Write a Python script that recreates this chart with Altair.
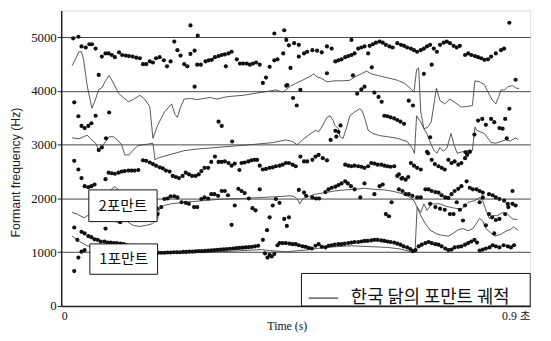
import altair as alt
import pandas as pd

# ---- measured formant points (time s, frequency Hz) ----
f4_dots = [(0.023,4980),(0.033,5010),(0.039,4830),(0.047,4810),(0.054,4870),(0.059,4870),(0.066,4790),(0.078,4640),(0.085,4700),(0.091,4700),(0.097,4670),(0.103,4630),(0.111,4720),(0.117,4670),(0.124,4660),(0.130,4650),(0.137,4640),(0.144,4620),(0.151,4610),(0.157,4500),(0.163,4500),(0.170,4550),(0.176,4530),(0.182,4610),(0.189,4630),(0.197,4570),(0.203,4460),(0.210,4550),(0.223,4760),(0.229,4660),(0.236,4500),(0.242,4460),(0.248,4690),(0.256,4750),(0.261,4490),(0.268,4490),(0.277,4550),(0.283,4570),(0.289,4580),(0.295,4630),(0.302,4650),(0.308,4670),(0.314,4680),(0.321,4700),(0.327,4730),(0.316,4460),(0.337,4590),(0.343,4510),(0.349,4510),(0.356,4510),(0.362,4490),(0.368,4510),(0.374,4530),(0.381,4490),(0.409,4570),(0.415,4590),(0.426,4700),(0.437,4850),(0.447,4890),(0.456,4860),(0.466,4700),(0.472,4730),(0.482,4760),(0.491,4750),(0.500,4720),(0.510,4830),(0.519,4790),(0.526,4550),(0.532,4570),(0.538,4590),(0.545,4630),(0.551,4650),(0.557,4670),(0.563,4700),(0.570,4790),(0.576,4810),(0.582,4830),(0.592,4840),(0.598,4870),(0.604,4900),(0.611,4920),(0.617,4900),(0.623,4860),(0.630,4830),(0.636,4810),(0.645,4890),(0.652,4860),(0.658,4840),(0.664,4810),(0.671,4790),(0.677,4760),(0.683,4730),(0.690,4760),(0.696,4790),(0.702,4830),(0.708,4860),(0.715,4790),(0.721,4730),(0.727,4860),(0.734,4900),(0.740,4920),(0.746,4890),(0.753,4840),(0.759,4810),(0.765,4840),(0.775,4670),(0.781,4700),(0.787,4670),(0.794,4650),(0.800,4630),(0.806,4610),(0.812,4580),(0.819,4590),(0.825,4640),(0.834,4700),(0.844,4760),(0.850,4790)]
f4_outliers = [(0.072,4300),(0.217,4920),(0.248,5220),(0.262,5030),(0.256,4080),(0.387,4150),(0.393,4250),(0.400,4450),(0.409,5070),(0.428,5130),(0.432,4950),(0.432,4100),(0.456,4640),(0.557,4950),(0.589,4700),(0.711,4490),(0.860,5270)]
f3_dots = [(0.025,3790),(0.033,3530),(0.039,3350),(0.045,3310),(0.052,3350),(0.058,3400),(0.066,3540),(0.072,2900),(0.078,2950),(0.086,3120),(0.092,3600),(0.302,3430),(0.308,3350),(0.328,3060),(0.434,4110),(0.440,4430),(0.445,3870),(0.452,3730),(0.459,4020),(0.510,4330),(0.517,3090),(0.526,3260),(0.532,3240),(0.528,3150),(0.536,3360),(0.560,4290),(0.568,3950),(0.576,4030),(0.582,4080),(0.596,4440),(0.601,3970),(0.609,3890),(0.615,3800),(0.620,3540),(0.626,3530),(0.632,3510),(0.639,3490),(0.645,3460),(0.651,3430),(0.658,3390),(0.667,3820),(0.675,3730),(0.696,4320),(0.702,2870),(0.704,2840),(0.708,3140),(0.776,2860),(0.784,2870),(0.793,3190),(0.800,3450),(0.808,3480),(0.815,3370),(0.825,3480),(0.831,3420),(0.841,3310),(0.847,3300),(0.852,3480),(0.860,3670),(0.855,3120),(0.872,4210)]
f2_upper_dots = [(0.025,2700),(0.033,2540),(0.039,2380),(0.045,2230),(0.052,2210),(0.058,2230),(0.064,2260),(0.085,2360),(0.091,2480),(0.097,2470),(0.103,2460),(0.110,2480),(0.116,2500),(0.122,2510),(0.129,2520),(0.135,2520),(0.141,2520),(0.148,2530),(0.157,2710),(0.163,2700),(0.170,2670),(0.176,2640),(0.182,2610),(0.189,2580),(0.195,2560),(0.201,2520),(0.208,2500),(0.214,2420),(0.220,2400),(0.226,2380),(0.233,2420),(0.239,2480),(0.245,2450),(0.251,2420),(0.258,2420),(0.264,2450),(0.269,2510),(0.275,2570),(0.282,2570),(0.288,2680),(0.295,2780),(0.302,2680),(0.308,2680),(0.314,2690),(0.321,2660),(0.327,2610),(0.333,2650),(0.342,2530),(0.346,2660),(0.352,2670),(0.359,2690),(0.365,2710),(0.371,2720),(0.376,2720),(0.381,2610),(0.387,2540),(0.393,2550),(0.400,2570),(0.406,2580),(0.412,2600),(0.419,2610),(0.425,2630),(0.431,2660),(0.437,2660),(0.444,2630),(0.450,2600),(0.459,2780),(0.466,2690),(0.472,2690),(0.482,2720),(0.488,2780),(0.494,2810),(0.502,2750),(0.510,2710),(0.545,2630),(0.551,2610),(0.557,2600),(0.563,2610),(0.570,2600),(0.576,2590),(0.582,2570),(0.589,2600),(0.595,2660),(0.601,2650),(0.607,2630),(0.614,2630),(0.620,2610),(0.626,2600),(0.632,2590),(0.639,2600),(0.645,2420),(0.648,2450),(0.653,2370),(0.655,2380),(0.661,2350),(0.666,2400),(0.671,2660),(0.677,2610),(0.683,2570),(0.690,2540),(0.711,2720),(0.717,2640),(0.724,2600),(0.730,2570),(0.736,2540),(0.743,2720),(0.749,2660),(0.755,2690),(0.762,2630),(0.768,2660),(0.775,2750),(0.779,2810),(0.784,2870)]
f2_lower_dots = [(0.085,1440),(0.107,1590),(0.113,1560),(0.184,1810),(0.185,1710),(0.192,1840),(0.198,1990),(0.204,2000),(0.210,2040),(0.217,2040),(0.223,2020),(0.231,1930),(0.239,1920),(0.245,1900),(0.255,1840),(0.261,1840),(0.269,1990),(0.275,2020),(0.282,2000),(0.288,2080),(0.294,2080),(0.301,2050),(0.308,2140),(0.314,2140),(0.320,2060),(0.327,1510),(0.333,1870),(0.340,2180),(0.346,2140),(0.352,2100),(0.360,2000),(0.367,1820),(0.373,1780),(0.381,2170),(0.395,1410),(0.400,1650),(0.406,1870),(0.412,1990),(0.419,1920),(0.428,1620),(0.433,1490),(0.437,1650),(0.456,2160),(0.466,2110),(0.470,2050),(0.482,2020),(0.489,2000),(0.495,2000),(0.507,2120),(0.513,2170),(0.519,2200),(0.526,2220),(0.532,2250),(0.538,2280),(0.545,2320),(0.550,2280),(0.556,2230),(0.563,2170),(0.574,2020),(0.582,2280),(0.601,2080),(0.611,2230),(0.617,2260),(0.623,1710),(0.629,1670),(0.634,1930),(0.648,2170),(0.655,2140),(0.661,2080),(0.667,2080),(0.674,2050),(0.683,2020),(0.690,2020),(0.699,2170),(0.705,2170),(0.708,1900),(0.711,2140),(0.718,2120),(0.718,1840),(0.724,2110),(0.727,1810),(0.730,2060),(0.736,1790),(0.737,2020),(0.743,2010),(0.746,1710),(0.749,2080),(0.753,1710),(0.755,2140),(0.759,1930),(0.762,2180),(0.765,1790),(0.768,2230),(0.771,1590),(0.775,1870),(0.778,2320),(0.784,2200),(0.790,2170),(0.797,2170),(0.803,2140),(0.803,1930),(0.809,2110),(0.809,2020),(0.815,1500),(0.821,2080),(0.821,1710),(0.827,1650),(0.828,2060),(0.831,1350),(0.834,2020),(0.834,1600),(0.841,1990),(0.841,1620),(0.850,1960),(0.852,1710),(0.857,1900),(0.858,1840),(0.866,2140),(0.866,1900),(0.872,1870)]
f1_dots = [(0.025,1460),(0.025,650),(0.031,1230),(0.033,900),(0.039,1010),(0.045,1040),(0.039,1380),(0.045,1350),(0.052,1300),(0.058,1280),(0.064,1240),(0.070,1230),(0.076,1200),(0.083,1200),(0.089,1180),(0.095,1180),(0.101,1170),(0.107,1170),(0.114,1160),(0.120,1150),(0.126,1130),
           (0.186,990),(0.192,990),(0.198,990),(0.204,995),(0.210,995),(0.216,1000),(0.222,1000),(0.228,1000),(0.234,1005),(0.240,1005),(0.246,1010),(0.252,1010),(0.258,1015),(0.264,1020),(0.270,1020),(0.276,1025),(0.282,1030),(0.288,1035),(0.294,1040),(0.300,1045),(0.306,1050),(0.312,1055),(0.318,1060),(0.324,1065),(0.330,1070),(0.336,1075),(0.342,1080),(0.348,1085),(0.354,1090),(0.360,1095),(0.366,1100),(0.372,1110),(0.378,1120),(0.387,1230),
           (0.391,980),(0.396,900),(0.400,950),(0.404,920),(0.409,970),(0.415,1130),(0.419,1170),(0.425,1170),
           (0.431,1170),(0.438,1160),(0.444,1150),(0.450,1150),(0.456,1130),(0.463,1110),(0.469,1100),(0.475,1080),(0.481,1070),(0.488,1120),(0.494,1150),(0.500,1100),(0.507,1090),(0.513,1120),(0.519,1130),(0.525,1140),(0.532,1150),(0.538,1150),(0.544,1160),(0.551,1170),(0.557,1180),(0.563,1190),(0.570,1190),(0.576,1200),(0.582,1210),(0.588,1210),(0.595,1220),(0.601,1230),(0.607,1230),(0.614,1220),(0.620,1210),(0.626,1200),(0.632,1190),(0.639,1180),(0.645,1160),(0.651,1140),(0.657,1110),(0.664,1090),(0.670,1060),(0.675,1020),(0.680,1040),(0.686,1110),(0.692,1140),(0.699,1170),(0.705,1190),(0.711,1170),(0.718,1150),(0.724,1140),(0.730,1110),(0.737,1070),(0.743,1040),(0.749,1050),(0.755,1090),(0.762,1100),(0.768,1110),(0.775,1140),(0.781,1170),(0.787,1200),(0.793,1230),(0.798,1180),(0.803,1030),(0.809,1050),(0.815,1070),(0.822,1090),(0.828,1130),(0.834,1110),(0.841,1090),(0.849,1130),(0.857,1110),(0.863,1090),(0.869,1130)]

# ---- Korean chicken formant trajectories (lines) ----
line_f4 = [(0.021,4470),(0.028,4610),(0.034,4730),(0.039,4730),(0.043,4580),(0.050,4090),(0.059,3680),(0.066,3850),(0.072,4030),(0.078,4060),(0.085,4190),(0.092,4290),(0.100,4150),(0.110,3960),(0.119,3880),(0.129,3800),(0.138,3840),(0.151,3920),(0.160,3850),(0.170,3710),(0.176,3120),(0.185,3360),(0.198,3610),(0.212,3760),(0.218,3570),(0.223,3510),(0.229,3700),(0.236,3850),(0.248,3860),(0.261,3840),(0.273,3860),(0.286,3880),(0.299,3850),(0.311,3880),(0.324,3900),(0.337,3910),(0.349,3920),(0.362,3940),(0.374,3960),(0.387,3980),(0.400,4000),(0.412,4020),(0.425,3980),(0.431,4020),(0.440,4090),(0.450,4140),(0.463,4200),(0.475,4260),(0.485,4320),(0.491,4260),(0.497,4250),(0.510,4170),(0.525,4190),(0.541,4190),(0.554,4200),(0.563,4260),(0.576,4320),(0.586,4370),(0.595,4320),(0.607,4290),(0.620,4260),(0.633,4230),(0.645,4200),(0.658,4150),(0.671,4040),(0.677,3980),(0.682,4400),(0.686,4430),(0.690,3610),(0.696,3300),(0.703,3320),(0.710,3420),(0.716,3800),(0.720,4050),(0.727,3820),(0.736,3760),(0.746,3850),(0.755,3790),(0.768,3700),(0.784,3720),(0.789,3730),(0.794,4190),(0.803,4170),(0.812,4120),(0.821,3940),(0.828,3820),(0.834,3760),(0.839,3880),(0.844,4020),(0.851,4020),(0.857,4080),(0.866,4100),(0.872,4060),(0.879,4040)]
line_f3 = [(0.021,3130),(0.034,3110),(0.043,3150),(0.050,3180),(0.056,3110),(0.066,3030),(0.072,2900),(0.078,2960),(0.085,3060),(0.092,3150),(0.100,3150),(0.108,3090),(0.116,3000),(0.122,2810),(0.130,2810),(0.138,2900),(0.147,2980),(0.157,3000),(0.166,3010),(0.176,3030),(0.180,2720),(0.185,2750),(0.210,2820),(0.236,2890),(0.261,2920),(0.299,2950),(0.337,2980),(0.374,3010),(0.406,3040),(0.431,3090),(0.444,3060),(0.453,3000),(0.463,3090),(0.475,3180),(0.488,3270),(0.494,3240),(0.500,3330),(0.510,3510),(0.516,3540),(0.522,3450),(0.525,3360),(0.532,3300),(0.535,3150),(0.541,3120),(0.548,3330),(0.554,3540),(0.563,3610),(0.573,3670),(0.577,3640),(0.582,3510),(0.589,3270),(0.598,3210),(0.611,3170),(0.626,3150),(0.645,3120),(0.664,3060),(0.674,2930),(0.678,2840),(0.682,3540),(0.690,3420),(0.696,3300),(0.702,3200),(0.708,3050),(0.715,2900),(0.721,2840),(0.727,2950),(0.733,2880),(0.740,2930),(0.748,3210),(0.754,3000),(0.760,2840),(0.766,2860),(0.775,2880),(0.784,2900),(0.789,2890),(0.794,3330),(0.797,3270),(0.812,3210),(0.819,3120),(0.825,3040),(0.834,3030),(0.844,3060),(0.853,3090),(0.862,3070),(0.872,3130),(0.877,3090)]
line_f2 = [(0.021,1740),(0.031,1710),(0.038,1670),(0.044,1640),(0.050,1680),(0.057,1710),(0.070,1850),(0.085,2050),(0.097,2180),(0.103,2220),(0.108,2180),(0.115,1900),(0.122,1620),(0.128,1560),(0.138,1500),(0.150,1480),(0.163,1500),(0.175,1530),(0.185,1620),(0.188,1780),(0.191,1840),(0.198,1870),(0.210,1900),(0.236,1930),(0.273,1960),(0.311,1990),(0.349,2000),(0.387,2020),(0.425,2040),(0.437,2050),(0.447,2040),(0.453,1990),(0.458,1900),(0.463,1990),(0.472,2030),(0.488,2080),(0.507,2110),(0.525,2140),(0.544,2160),(0.563,2170),(0.582,2190),(0.601,2170),(0.620,2160),(0.639,2130),(0.658,2080),(0.671,2010),(0.677,1960),(0.683,1840),(0.690,1680),(0.699,1530),(0.708,1410),(0.721,1340),(0.733,1310),(0.743,1300),(0.752,1350),(0.762,1420),(0.771,1440),(0.781,1400),(0.790,1440),(0.797,1540),(0.803,1630),(0.809,1580),(0.815,1440),(0.824,1360),(0.832,1300),(0.843,1330),(0.855,1400),(0.862,1420),(0.868,1470),(0.874,1430),(0.877,1410)]
line_f1 = [(0.021,1300),(0.035,1200),(0.050,1120),(0.070,1060),(0.100,1020),(0.140,1000),(0.185,985),(0.230,990),(0.280,1000),(0.330,1020),(0.384,1050),(0.400,1030),(0.431,1010),(0.469,1040),(0.507,1090),(0.557,1120),(0.601,1100),(0.626,1090),(0.651,1060),(0.671,1010),(0.679,1010),(0.683,1840),(0.690,1740),(0.696,1900),(0.702,1780),(0.711,1900),(0.727,1900),(0.740,1850),(0.755,1820),(0.768,1800),(0.781,1930),(0.794,1960),(0.803,2020),(0.809,1960),(0.815,1780),(0.822,1620),(0.828,1680),(0.837,1680),(0.847,1740),(0.856,1710),(0.866,1620),(0.875,1610)]

legend_label = "한국 닭의 포만트 궤적"
y_ticks = [0, 1000, 2000, 3000, 4000, 5000]
x_ticks = [0, 0.9]

# annotation boxes in data units: (t0, t1, hz0, hz1, text)
label_boxes = [(0.053, 0.184, 1570, 2160, "2포만트"), (0.055, 0.185, 590, 1155, "1포만트")]
legend_box = (0.461, 0.9, 0, 605)

SERIF = "Liberation Serif, Times New Roman, serif"
KR = "Noto Sans CJK KR"


def pairs_df(pairs):
    return pd.DataFrame({"t": [p[0] for p in pairs], "hz": [p[1] for p in pairs]})


xscale = alt.Scale(domain=[0, 0.9], nice=False, zero=False)
yscale = alt.Scale(domain=[0, 5500], nice=False)
xaxis = alt.Axis(values=x_ticks, labelExpr="datum.value == 0 ? '0' : '0.9 초'",
                 labelFlush=True, ticks=False, grid=False, labelFont=SERIF + ", " + KR,
                 labelFontSize=12, labelColor="#111", labelPadding=5,
                 titleFont=SERIF, titleFontSize=12, titleFontWeight="normal", titleColor="#111",
                 titleX=229, titleY=20, titleBaseline="middle", domainColor="#222", domainWidth=1.5)
yaxis = alt.Axis(values=y_ticks, format="d", grid=True, gridColor="#444", gridWidth=1, tickSize=4,
                 tickColor="#222", labelFont=SERIF, labelFontSize=13, labelColor="#111",
                 labelPadding=1, titleFont="Liberation Sans, Arial, sans-serif", titleFontSize=12.5,
                 titleFontWeight="normal", titleColor="#222", titleX=-46, titleY=164,
                 titleAngle=-90, titleBaseline="middle", titleAlign="center",
                 domainColor="#222", domainWidth=1.5)


def X(field):
    return alt.X(field, type="quantitative", scale=xscale, axis=xaxis, title="Time (s)")


def Y(field):
    return alt.Y(field, type="quantitative", scale=yscale, axis=yaxis, title="Formant frequency (Hz)")


frames = []
for name, pts in [("F4", line_f4), ("F3", line_f3), ("F2", line_f2), ("F1", line_f1)]:
    d = pairs_df(pts)
    d["track"] = name
    d["i"] = range(len(d))
    d["series"] = legend_label
    frames.append(d)
lines_df = pd.concat(frames, ignore_index=True)

dots_df = pd.concat([pairs_df(p) for p in [f4_dots, f4_outliers, f3_dots, f2_upper_dots, f2_lower_dots, f1_dots]],
                    ignore_index=True)

boxes_df = pd.DataFrame({"t0": [b[0] for b in label_boxes], "t1": [b[1] for b in label_boxes],
                         "h0": [b[2] for b in label_boxes], "h1": [b[3] for b in label_boxes],
                         "text": [b[4] for b in label_boxes]})
boxes_df["tc"] = (boxes_df.t0 + boxes_df.t1) / 2
boxes_df["hc"] = (boxes_df.h0 + boxes_df.h1) / 2
legbox_df = pd.DataFrame({"t0": [legend_box[0]], "t1": [legend_box[1]], "h0": [legend_box[2]], "h1": [legend_box[3]]})

lines = alt.Chart(lines_df).mark_line(strokeWidth=0.9, interpolate="linear").encode(
    x=X("t"), y=Y("hz"), detail="track:N", order="i:Q",
    color=alt.Color("series:N", scale=alt.Scale(range=["#444444"]),
                    legend=alt.Legend(orient="none", legendX=250, legendY=276, title=None,
                                      symbolType="stroke", symbolSize=900, symbolStrokeWidth=1.3,
                                      labelFont=KR, labelFontSize=18, labelColor="#111",
                                      labelOffset=12, labelLimit=400, padding=0)))

dots = alt.Chart(dots_df).mark_circle(size=18, color="#111", opacity=1).encode(x=X("t"), y=Y("hz"))

boxes = alt.Chart(boxes_df).mark_rect(fill="white", stroke="#111", strokeWidth=1).encode(
    x=X("t0"), x2="t1", y=Y("h0"), y2="h1")
box_text = alt.Chart(boxes_df).mark_text(font=KR, fontSize=15, color="#111").encode(
    x=X("tc"), y=Y("hc"), text="text:N")
legbox = alt.Chart(legbox_df).mark_rect(fill="white", stroke="#111", strokeWidth=1).encode(
    x=X("t0"), x2="t1", y=Y("h0"), y2="h1")

chart = alt.layer(lines, dots, boxes, box_text, legbox).properties(
    width=476, height=300,
    autosize=alt.AutoSizeParams(type="none"),
    padding={"left": 54, "top": 0, "right": 13, "bottom": 25},
).configure_view(stroke="#222", strokeWidth=1.5).configure(background="white")

chart.save("out.html", embed_options={"renderer": "svg", "actions": False})
